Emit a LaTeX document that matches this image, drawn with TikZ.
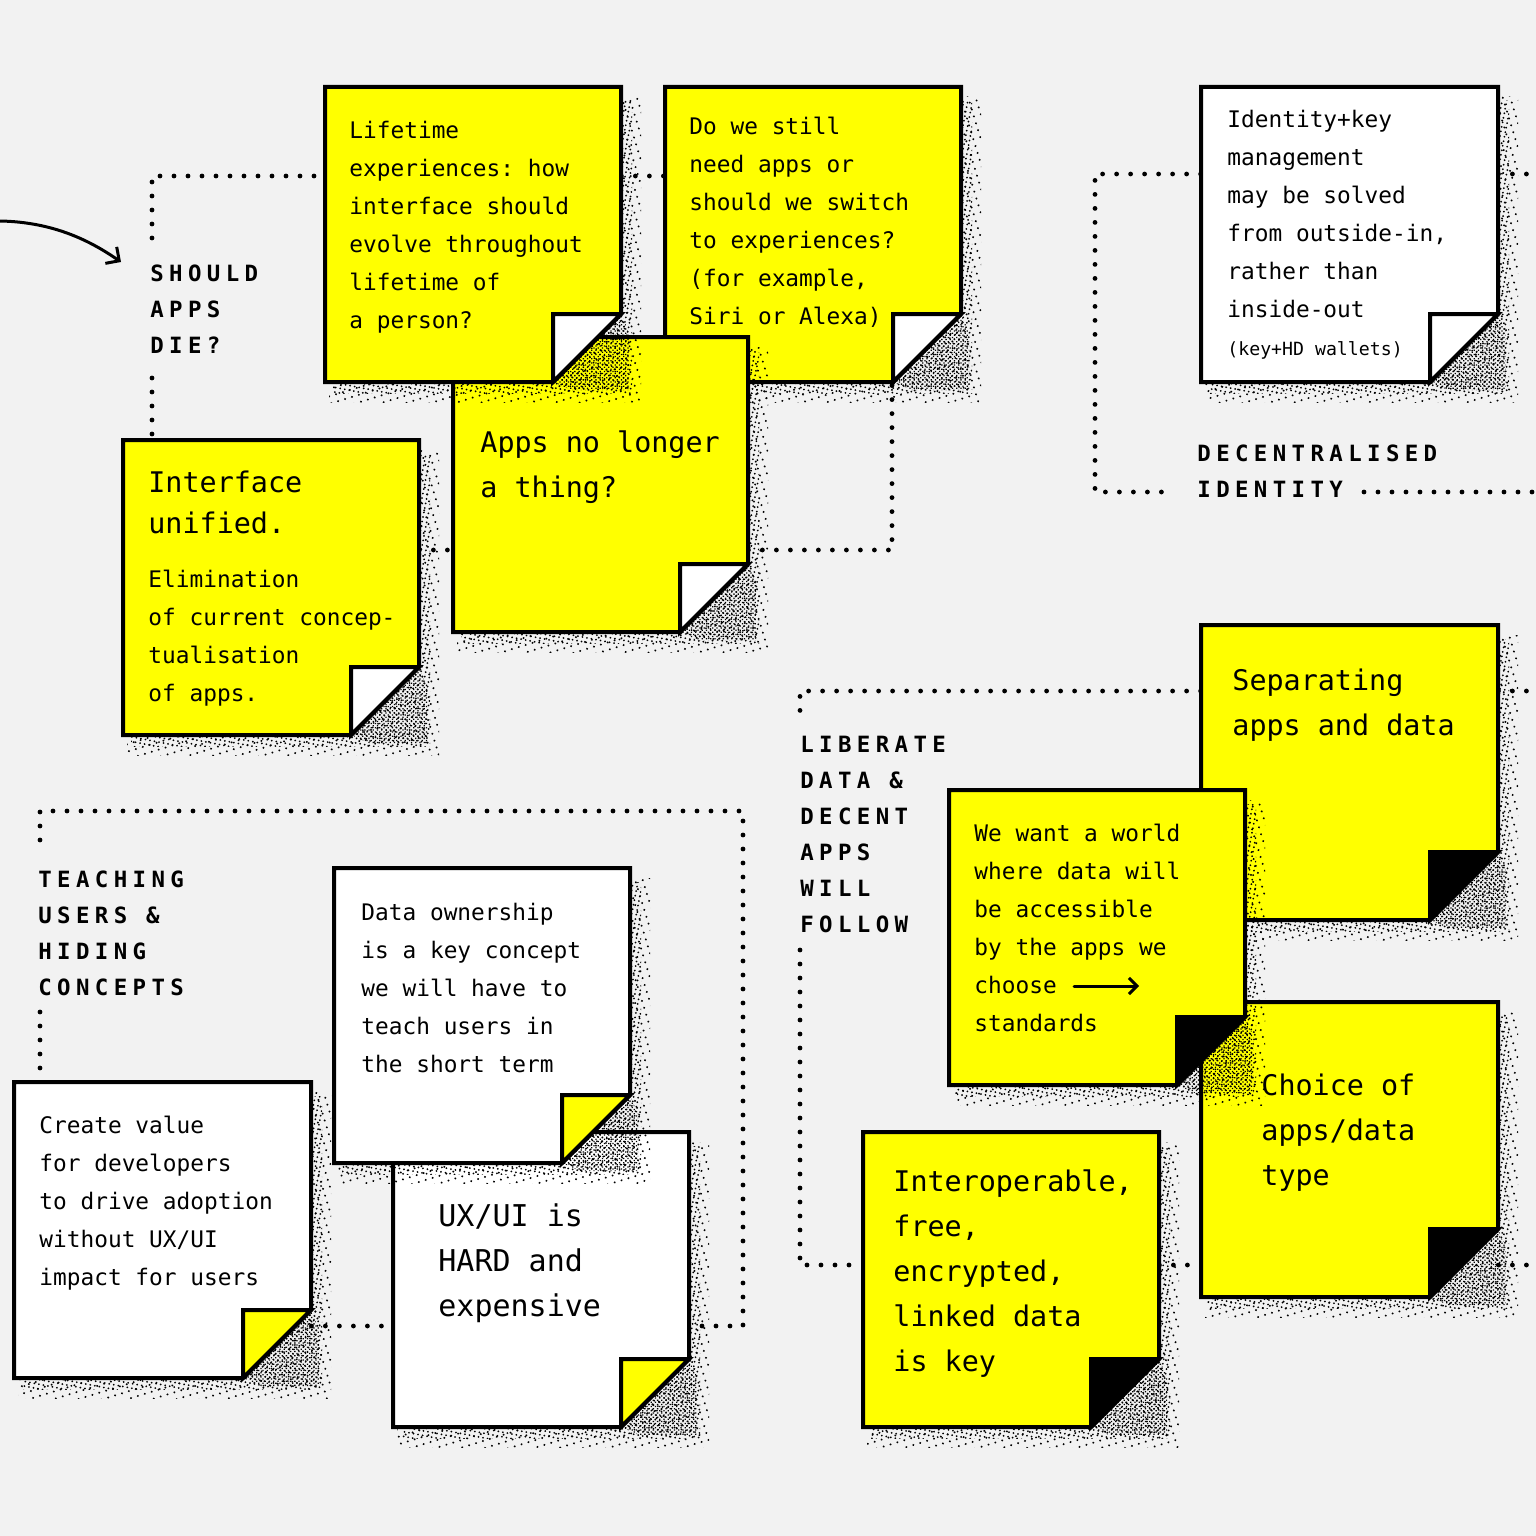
\documentclass[tikz,border=0pt]{standalone}
\usepackage{fontspec}
\usetikzlibrary{patterns.meta, fit, arrows.meta}
\newfontfamily\notefont{DejaVu Sans Mono}
\newfontfamily\lblfont[LetterSpace=24]{DejaVu Sans Mono Bold}
\definecolor{bgc}{HTML}{F2F2F2}
\definecolor{notey}{HTML}{FFFF00}
\pgfdeclarelayer{back}
\pgfdeclarelayer{lines}
\pgfsetlayers{back,lines,main}
\frenchspacing

\tikzset{
  noteline/.style={draw=black, line width=2pt, line join=miter},
  dotline/.style={draw=black, line width=2.4pt, line cap=round, dash pattern=on 0pt off 7pt},
  smalltext/.style={font=\notefont\fontsize{11.4pt}{19pt}\selectfont, anchor=base west, inner sep=0pt},
  bigtext/.style={font=\notefont\fontsize{14.2pt}{22.5pt}\selectfont, anchor=base west, inner sep=0pt},
  tinytext/.style={font=\notefont\fontsize{9.1pt}{12pt}\selectfont, anchor=base west, inner sep=0pt},
  lbl/.style={font=\lblfont\fontsize{11.2pt}{18pt}\selectfont, anchor=base west, inner sep=0pt},
  arrowline/.style={draw=black, line width=1.5pt, line cap=round},
}

\newcommand{\noteshadow}[4]{%
  \fill[pattern={Dots[distance=3.6pt, radius=0.55pt, angle=17]}] (#1+4,#2+10) rectangle (#3+20,#4+20);
  \fill[pattern={Dots[distance=2.3pt, radius=0.5pt, angle=-11]}] (#1+8,#2+14) rectangle (#3+11,#4+11);
  \fill[pattern={Dots[distance=1.5pt, radius=0.45pt, angle=45]}] (#3,#4-68) -- (#3+8,#4-50) -- (#3+8,#4+8) -- (#3-50,#4+8) -- (#3-68,#4) -- cycle;
}
\newcommand{\stickynote}[7]{%
  \noteshadow{#2}{#3}{#4}{#5}
  \draw[noteline, fill=#6] (#2,#3) -- (#4,#3) -- (#4,#5-68) -- (#4-68,#5) -- (#2,#5) -- cycle;
  \draw[noteline, fill=#7] (#4-68,#5-68) -- (#4,#5-68) -- (#4-68,#5) -- cycle;
  \node[fit={(#2,#3)(#4,#5)}, inner sep=0pt] (#1) {};
}
\newcommand{\lines}[1]{\parbox[t]{300pt}{\frenchspacing #1}}

\begin{document}
\begin{tikzpicture}[x=0.5pt, y=-0.5pt]
\useasboundingbox (0,0) rectangle (1536,1536);
\begin{pgfonlayer}{back}
  \fill[bgc] (0,0) rectangle (1536,1536);
\end{pgfonlayer}

% ---------- notes ----------
\stickynote{B}{665}{87}{961}{382}{notey}{white}
\node[smalltext] (Bt) at (689,134) {\lines{Do we still\\need apps or\\should we switch\\to experiences?\\(for example,\\Siri or Alexa)}};

\stickynote{C}{453}{337}{748}{632}{notey}{white}
\node[bigtext] (Ct) at (480,452) {\lines{Apps no longer\\a thing?}};

\stickynote{A}{325}{87}{621}{382}{notey}{white}
\node[smalltext] (At) at (349,139) {\lines{Lifetime\\experiences: how\\interface should\\evolve throughout\\lifetime of\\a person?}};

\stickynote{D}{123}{440}{419}{735}{notey}{white}
\node[bigtext, font=\notefont\fontsize{14.2pt}{20.5pt}\selectfont] (Dt1) at (148,492) {\lines{Interface\\unified.}};
\node[smalltext] (Dt2) at (148,587) {\lines{Elimination\\of current concep-\\tualisation\\of apps.}};

\stickynote{E}{1201}{87}{1498}{382}{white}{white}
\node[smalltext] (Et1) at (1227,127) {\lines{Identity+key\\management\\may be solved\\from outside-in,\\rather than\\inside-out}};
\node[tinytext] (Et2) at (1227,355) {(key+HD wallets)};

\stickynote{F}{1201}{625}{1498}{920}{notey}{black}
\node[bigtext] (Ft) at (1232,690) {\lines{Separating\\apps and data}};

\stickynote{H}{1201}{1002}{1498}{1297}{notey}{black}
\node[bigtext] (Ht) at (1261,1095) {\lines{Choice of\\apps/data\\type}};

\stickynote{G}{949}{790}{1245}{1085}{notey}{black}
\node[smalltext] (Gt) at (974,841) {\lines{We want a world\\where data will\\be accessible\\by the apps we\\choose\\standards}};
\coordinate (g0) at (1074,986);
\coordinate (g1) at (1139,986);
\draw[arrowline, -{Straight Barb[length=4pt,width=8pt]}] (g0) -- (g1);

\stickynote{I}{863}{1132}{1159}{1427}{notey}{black}
\node[bigtext] (It) at (893,1191) {\lines{Interoperable,\\free,\\encrypted,\\linked data\\is key}};

\stickynote{K}{393}{1132}{689}{1427}{white}{notey}
\node[bigtext, font=\notefont\fontsize{15pt}{22.5pt}\selectfont] (Kt) at (438,1226) {\lines{UX/UI is\\HARD and\\expensive}};

\stickynote{J}{334}{868}{630}{1163}{white}{notey}
\node[smalltext] (Jt) at (361,920) {\lines{Data ownership\\is a key concept\\we will have to\\teach users in\\the short term}};

\stickynote{L}{14}{1082}{311}{1378}{white}{notey}
\node[smalltext] (Lt) at (39,1133) {\lines{Create value\\for developers\\to drive adoption\\without UX/UI\\impact for users}};

% ---------- labels ----------
\node[lbl] (sad) at (150,281) {\lines{SHOULD\\APPS\\DIE?}};
\node[lbl] (did) at (1197,461) {\lines{DECENTRALISED\\IDENTITY}};
\node[lbl] (lib) at (800,752) {\lines{LIBERATE\\DATA \&\\DECENT\\APPS\\WILL\\FOLLOW}};
\node[lbl] (thc) at (38,887) {\lines{TEACHING\\USERS \&\\HIDING\\CONCEPTS}};

% ---------- incoming arrow ----------
\coordinate (a0) at (0,221);
\coordinate (a1) at (121,262);
\draw[arrowline, -{Straight Barb[length=5pt,width=10pt]}] (a0) .. controls (55,222) and (92,242) .. (a1);

% ---------- dotted connectors ----------
\begin{pgfonlayer}{lines}
  \coordinate (p1) at (152,238);
  \coordinate (p2) at (152,176);
  \draw[dotline] (p1) -- (p2) -- (p2 -| A.west);
  \draw[dotline] (p2 -| A.east) -- (p2 -| B.west);
  \coordinate (p3) at (152,378);
  \draw[dotline] (p3) -- (p3 |- D.north);
  \coordinate (p4) at (0,550);
  \draw[dotline] (p4 -| D.east) -- (p4 -| C.west);
  \coordinate (p5) at (892,550);
  \draw[dotline] (p5 -| C.east) -- (p5) -- (p5 |- B.south);

  \coordinate (q1) at (1095,174);
  \coordinate (q2) at (1095,492);
  \coordinate (q3) at (1170,492);
  \draw[dotline] (q1 -| E.west) -- (q1) -- (q2) -- (q3);
  \coordinate (q4) at (1364,492);
  \coordinate (q5) at (1540,492);
  \draw[dotline] (q4) -- (q5);
  \coordinate (q6) at (1540,174);
  \draw[dotline] (q1 -| E.east) -- (q6);

  \coordinate (r1) at (800,691);
  \coordinate (r2) at (800,715);
  \draw[dotline] (r1 -| F.west) -- (r1) -- (r2);
  \coordinate (r3) at (1540,691);
  \draw[dotline] (r1 -| F.east) -- (r3);
  \coordinate (r4) at (800,950);
  \coordinate (r5) at (800,1265);
  \draw[dotline] (r4) -- (r5) -- (r5 -| I.west);
  \draw[dotline] (r5 -| I.east) -- (r5 -| H.west);
  \coordinate (r6) at (1540,1265);
  \draw[dotline] (r5 -| H.east) -- (r6);

  \coordinate (t2) at (40,1012);
  \draw[dotline] (t2) -- (t2 |- L.north);
  \coordinate (t3) at (40,840);
  \coordinate (t4) at (40,811);
  \coordinate (t5) at (743,811);
  \coordinate (t6) at (743,1326);
  \draw[dotline] (t3) -- (t4) -- (t5) -- (t6) -- (t6 -| K.east);
  \draw[dotline] (t6 -| L.east) -- (t6 -| K.west);
\end{pgfonlayer}
\end{tikzpicture}
\end{document}
